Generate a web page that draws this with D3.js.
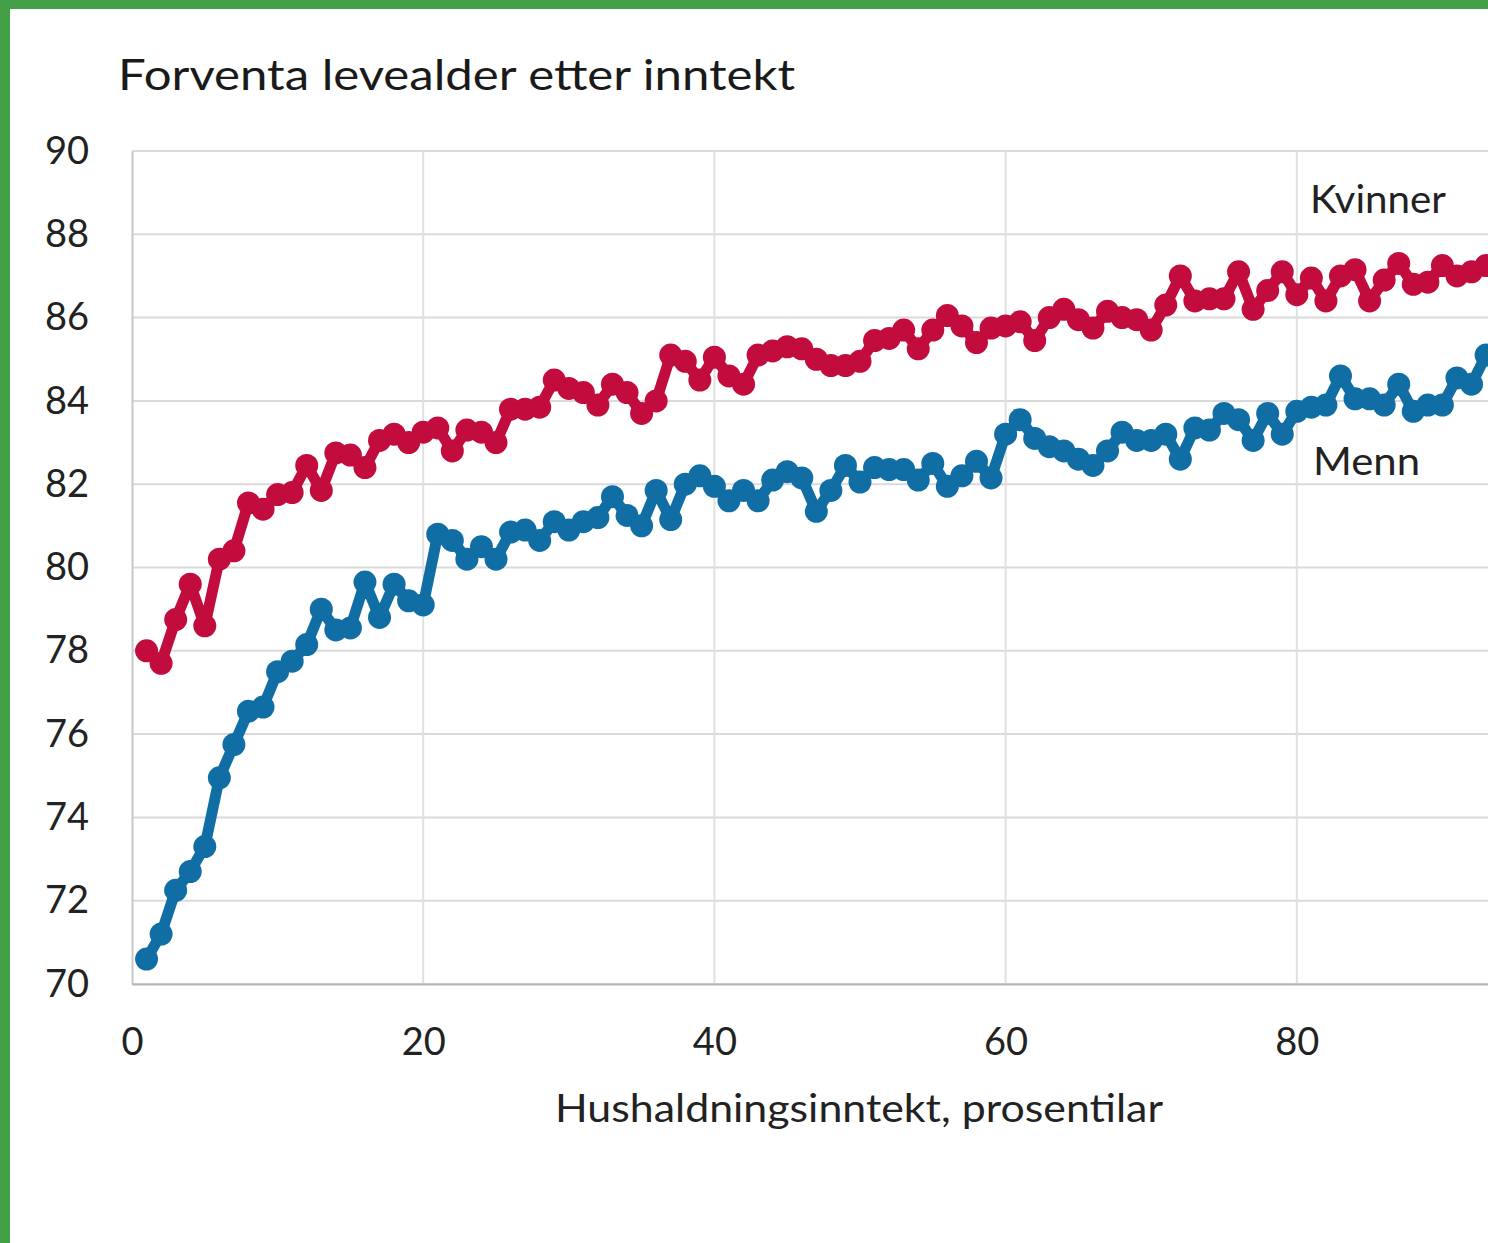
<!DOCTYPE html>
<html>
<head>
<meta charset="utf-8">
<script src="https://cdn.jsdelivr.net/npm/d3@7"></script>
<style>
  html, body { margin: 0; padding: 0; background: #fff; }
  body { width: 1488px; height: 1243px; overflow: hidden; }
  svg { display: block; font-family: Lato, "Open Sans", sans-serif; }
</style>
</head>
<body>
<div id="chart"></div>
<script>
var width = 1488;
var height = 1243;

// percentiles 1..93 (chart is cropped on the right)
var kvinner = [
	78.0, 77.7, 78.75, 79.6, 78.6, 80.2, 80.4, 81.55, 81.4, 81.75,
	81.8, 82.45, 81.85, 82.75, 82.7, 82.4, 83.05, 83.2, 83.0, 83.25,
	83.35, 82.8, 83.3, 83.25, 83.0, 83.8, 83.8, 83.85, 84.5, 84.3,
	84.2, 83.9, 84.4, 84.2, 83.7, 84.0, 85.1, 84.95, 84.5, 85.05,
	84.6, 84.4, 85.1, 85.2, 85.3, 85.25, 85.0, 84.85, 84.85, 84.95,
	85.45, 85.5, 85.7, 85.25, 85.7, 86.05, 85.8, 85.4, 85.75, 85.8,
	85.9, 85.45, 86.0, 86.2, 85.95, 85.75, 86.15, 86.0, 85.95, 85.7,
	86.3, 87.0, 86.4, 86.45, 86.45, 87.1, 86.2, 86.65, 87.1, 86.55,
	86.95, 86.4, 87.0, 87.15, 86.4, 86.9, 87.3, 86.8, 86.85, 87.25,
	87.0, 87.1, 87.25
];

var menn = [
	70.6, 71.2, 72.25, 72.7, 73.3, 74.95, 75.75, 76.55, 76.65, 77.5,
	77.75, 78.15, 79.0, 78.5, 78.55, 79.65, 78.8, 79.6, 79.2, 79.1,
	80.8, 80.65, 80.2, 80.5, 80.2, 80.85, 80.9, 80.65, 81.1, 80.9,
	81.1, 81.2, 81.7, 81.25, 81.0, 81.85, 81.15, 82.0, 82.2, 81.95,
	81.6, 81.85, 81.6, 82.1, 82.3, 82.15, 81.35, 81.85, 82.45, 82.05,
	82.4, 82.35, 82.35, 82.1, 82.5, 81.95, 82.2, 82.55, 82.15, 83.2,
	83.55, 83.1, 82.9, 82.8, 82.6, 82.45, 82.8, 83.25, 83.05, 83.05,
	83.2, 82.6, 83.35, 83.3, 83.7, 83.55, 83.05, 83.7, 83.2, 83.75,
	83.85, 83.9, 84.6, 84.05, 84.05, 83.9, 84.4, 83.75, 83.9, 83.9,
	84.55, 84.4, 85.1
];

var series = [
	{name: "Kvinner", values: kvinner, color: "#c20c3e"},
	{name: "Menn", values: menn, color: "#106ea4"}
];

var yTicks = [70, 72, 74, 76, 78, 80, 82, 84, 86, 88, 90];
var xTicks = [0, 20, 40, 60, 80];

var titleText = "Forventa levealder etter inntekt";
var xTitle = "Hushaldningsinntekt, prosentilar";

// plot area (right side runs off the picture, like the original crop)
var plot = {left: 132, top: 151, bottom: 984, right: 1588};

var x = d3.scaleLinear([0, 100], [plot.left, plot.right]);
var y = d3.scaleLinear([70, 90], [plot.bottom, plot.top]);

var svg = d3.select("#chart").append("svg")
	.attr("width", width)
	.attr("height", height)
	.attr("viewBox", [0, 0, width, height]);

svg.append("rect")
	.attr("width", width)
	.attr("height", height)
	.attr("fill", "#fff");

// grid
var grid = svg.append("g");
grid.selectAll(".hgrid")
	.data(yTicks)
	.join("line")
	.attr("x1", plot.left)
	.attr("x2", plot.right)
	.attr("y1", d => y(d))
	.attr("y2", d => y(d))
	.attr("stroke", "#dadada")
	.attr("stroke-width", 2);

grid.selectAll(".vgrid")
	.data(xTicks.slice(1))
	.join("line")
	.attr("x1", d => x(d))
	.attr("x2", d => x(d))
	.attr("y1", plot.top)
	.attr("y2", plot.bottom)
	.attr("stroke", "#e0e0e0")
	.attr("stroke-width", 2);

// axes
var yAxis = d3.axisLeft(y).tickValues(yTicks).tickSize(0).tickPadding(43);
svg.append("g")
	.attr("transform", `translate(${plot.left},0)`)
	.call(yAxis)
	.call(g => g.select(".domain").attr("stroke", "#c8c8c8").attr("stroke-width", 2))
	.call(g => g.selectAll("text")
		.attr("fill", "#222")
		.style("font-size", "38px")
		.style("font-family", "Lato, sans-serif"));

var xAxis = d3.axisBottom(x).tickValues(xTicks).tickSize(0).tickPadding(44);
svg.append("g")
	.attr("transform", `translate(0,${plot.bottom})`)
	.call(xAxis)
	.call(g => g.select(".domain").attr("stroke", "#b4b4b4").attr("stroke-width", 2))
	.call(g => g.selectAll("text")
		.attr("fill", "#222")
		.style("font-size", "38px")
		.style("font-family", "Lato, sans-serif"));

// lines + markers
var line = d3.line()
	.x((d, i) => x(i + 1))
	.y(d => y(d));

var sg = svg.append("g")
	.selectAll("g")
	.data(series)
	.join("g");

sg.append("path")
	.attr("d", d => line(d.values))
	.attr("fill", "none")
	.attr("stroke", d => d.color)
	.attr("stroke-width", 11)
	.attr("stroke-linejoin", "round");

sg.each(function(s) {
	d3.select(this).selectAll("circle")
		.data(s.values)
		.join("circle")
		.attr("cx", (d, i) => x(i + 1))
		.attr("cy", d => y(d))
		.attr("r", 11.5)
		.attr("fill", s.color);
});

// series labels
svg.append("text")
	.attr("x", 1310)
	.attr("y", 213)
	.attr("fill", "#222")
	.style("font-size", "38px")
	.attr("textLength", 136)
	.attr("lengthAdjust", "spacingAndGlyphs")
	.text("Kvinner");

svg.append("text")
	.attr("x", 1313)
	.attr("y", 475)
	.attr("fill", "#222")
	.style("font-size", "38px")
	.attr("textLength", 107)
	.attr("lengthAdjust", "spacingAndGlyphs")
	.text("Menn");

// titles
svg.append("text")
	.attr("x", 118)
	.attr("y", 90)
	.attr("fill", "#1a1a1a")
	.style("font-size", "42px")
	.attr("textLength", 677)
	.attr("lengthAdjust", "spacingAndGlyphs")
	.text(titleText);

svg.append("text")
	.attr("x", 555)
	.attr("y", 1122)
	.attr("fill", "#222")
	.style("font-size", "39px")
	.attr("textLength", 608)
	.attr("lengthAdjust", "spacingAndGlyphs")
	.text(xTitle);

// green frame on left and top
svg.append("rect").attr("x", 0).attr("y", 0).attr("width", width).attr("height", 9).attr("fill", "#44a047");
svg.append("rect").attr("x", 0).attr("y", 0).attr("width", 10).attr("height", height).attr("fill", "#44a047");
</script>
</body>
</html>
